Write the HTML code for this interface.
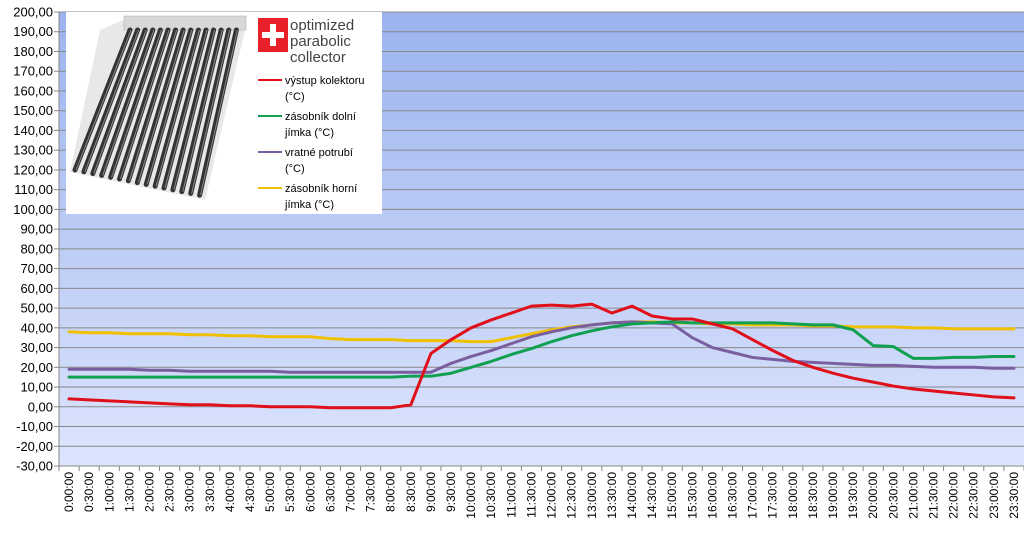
<!DOCTYPE html>
<html><head><meta charset="utf-8"><style>
html,body{margin:0;padding:0;background:#fff;}
svg{display:block;font-family:"Liberation Sans",sans-serif;}
</style></head><body>
<svg id="c" width="1024" height="536" viewBox="0 0 1024 536">
<defs>
<linearGradient id="bg" x1="0" y1="0" x2="0" y2="1">
<stop offset="0" stop-color="#9bb3ee"/><stop offset="1" stop-color="#dde5fd"/>
</linearGradient>
</defs>
<rect x="59" y="12" width="965" height="454" fill="url(#bg)"/>
<g id="grid"></g><g id="axes"></g><g id="series"></g>
<g>
<rect x="66" y="12" width="316" height="202" fill="#fff"/>
<polygon points="128,18 245,18 245,30 205,200 70,172 100,30" fill="#e8e8ea"/>
<rect x="124" y="16" width="122" height="14" fill="#d8d8da" stroke="#aaa" stroke-width="0.5"/>
<g id="tubes"></g>
<rect x="258" y="18" width="30" height="34" fill="#e8202a"/>
<rect x="270" y="24" width="6" height="22" fill="#fff"/><rect x="262" y="32" width="22" height="6" fill="#fff"/>
<text x="290" y="30" font-size="15" fill="#444">optimized</text>
<text x="290" y="46" font-size="15" fill="#444">parabolic</text>
<text x="290" y="62" font-size="15" fill="#444">collector</text>
<g font-size="11" fill="#000">
<line x1="258" y1="80" x2="282" y2="80" stroke="#e0101a" stroke-width="2"/>
<text x="285" y="84">výstup kolektoru</text><text x="285" y="100">(°C)</text>
<line x1="258" y1="116" x2="282" y2="116" stroke="#10a050" stroke-width="2"/>
<text x="285" y="120">zásobník dolní</text><text x="285" y="136">jímka (°C)</text>
<line x1="258" y1="152" x2="282" y2="152" stroke="#7a5fa0" stroke-width="2"/>
<text x="285" y="156">vratné potrubí</text><text x="285" y="172">(°C)</text>
<line x1="258" y1="188" x2="282" y2="188" stroke="#f0c000" stroke-width="2"/>
<text x="285" y="192">zásobník horní</text><text x="285" y="208">jímka (°C)</text>
</g>
</g>
</svg>
<script>
const categories=[];for(let h=0;h<24;h++){categories.push(h+':00:00');categories.push(h+':30:00');}
const yTicks=[-30,-20,-10,0,10,20,30,40,50,60,70,80,90,100,110,120,130,140,150,160,170,180,190,200];
const vystup=[4,3.5,3,2.5,2,1.5,1,1,0.5,0.5,0,0,0,-0.5,-0.5,-0.5,-0.5,1,27,34,40,44,47.5,51,51.5,51,52,47.5,51,46,44.5,44.5,42,39.5,34,28.5,23.5,20,17,14.5,12.5,10.5,9,8,7,6,5,4.5];
const dolni=[15,15,15,15,15,15,15,15,15,15,15,15,15,15,15,15,15,15.5,15.5,17,20,23,26.5,29.5,33,36,38.5,40.5,42,42.5,43,42.5,42.5,42.5,42.5,42.5,42,41.5,41.5,39,31,30.5,24.5,24.5,25,25,25.5,25.5];
const vratne=[19,19,19,19,18.5,18.5,18,18,18,18,18,17.5,17.5,17.5,17.5,17.5,17.5,17.5,17.5,22,25.5,28.5,32,35.5,38,40,41.5,42.5,43,42.5,42,35,30,27.5,25,24,23,22.5,22,21.5,21,21,20.5,20,20,20,19.5,19.5];
const horni=[38,37.5,37.5,37,37,37,36.5,36.5,36,36,35.5,35.5,35.5,34.5,34,34,34,33.5,33.5,33.5,33,33,35,37,39,40.5,41.5,42.5,43,43,42.5,42.5,42,42,41.5,41.5,41.5,41,41,40.5,40.5,40.5,40,40,39.5,39.5,39.5,39.5];
const NS='http://www.w3.org/2000/svg';
const L=59,T=12,B=466,W=965,yMin=-30,yMax=200;
const bw=W/categories.length;
function x(i){return L+bw*(i+0.5);}
function y(v){return B-(v-yMin)/(yMax-yMin)*(B-T);}
function mk(tag,attrs,parent){const e=document.createElementNS(NS,tag);for(const k in attrs)e.setAttribute(k,attrs[k]);parent.appendChild(e);return e;}
const grid=document.getElementById('grid'),axes=document.getElementById('axes'),ser=document.getElementById('series');
yTicks.forEach(v=>{
 if(v>yMin){const g=mk('line',{x1:L,x2:L+W,y1:y(v),y2:y(v),stroke:'#888','stroke-width':1},grid);
 
 }
 mk('line',{x1:L-5,x2:L,y1:y(v),y2:y(v),stroke:'#888'},axes);
 const t=mk('text',{x:53,y:y(v)+4.5,'text-anchor':'end','font-size':13,fill:'#000'},axes);
 
 
 t.textContent=v.toFixed(2).replace('.',',');
});
mk('line',{x1:L,x2:L,y1:T,y2:B,stroke:'#888'},axes);
mk('line',{x1:L,x2:L+W,y1:B,y2:B,stroke:'#888'},axes);
mk('line',{x1:L,x2:L+W,y1:T,y2:T,stroke:'#888'},axes);
for(let i=0;i<=categories.length;i++)mk('line',{x1:L+bw*i,x2:L+bw*i,y1:B,y2:B+5,stroke:'#888'},axes);
categories.forEach((c,i)=>{
 const t=mk('text',{x:0,y:0,transform:`translate(${x(i)+4},472) rotate(-90)`,'text-anchor':'end','font-size':12,fill:'#000'},axes);
 
 
 t.textContent=c;
});
[[horni,'#f0c000','series-zasobnik-horni'],[vratne,'#7a5fa0','series-vratne-potrubi'],[dolni,'#10a050','series-zasobnik-dolni'],[vystup,'#e0101a','series-vystup-kolektoru']].forEach(([d,col,n])=>{
 const p=mk('polyline',{points:d.map((v,i)=>x(i)+','+y(v)).join(' '),fill:'none',stroke:col,'stroke-width':3,'stroke-linejoin':'round','stroke-linecap':'round'},ser);
 
 
});
const tb=document.getElementById('tubes');
for(let k=0;k<15;k++){
 const x0=130+k*7.6,x1=75+k*8.9;
 mk('line',{x1:x0,y1:30,x2:x1,y2:170+k*1.8,stroke:'#333','stroke-width':5,'stroke-linecap':'round'},tb);
 mk('line',{x1:x0+1,y1:30,x2:x1+1,y2:170+k*1.8,stroke:'#888','stroke-width':1},tb);
}
</script>
</body></html>
